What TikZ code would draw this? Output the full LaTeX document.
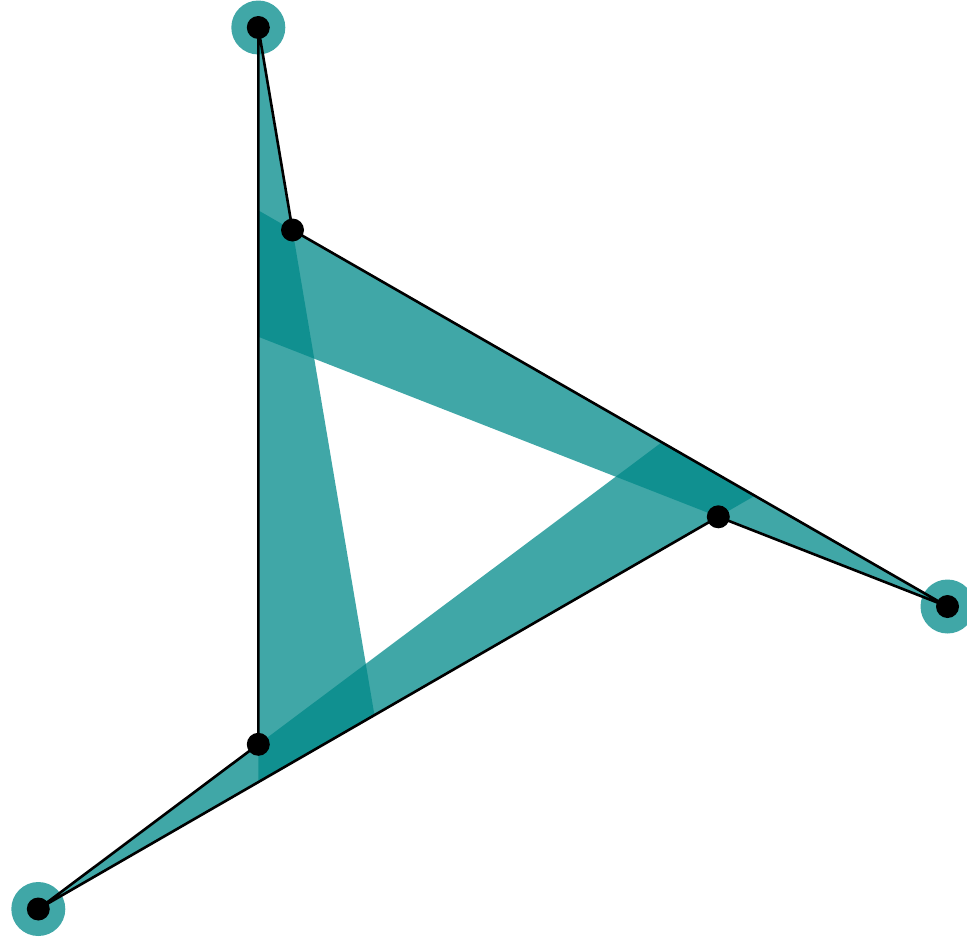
\documentclass[tikz,border=0pt]{standalone}
\definecolor{teal1}{RGB}{0,137,137}
\tikzset{
  band/.style={fill=teal1, fill opacity=0.75},
  halo/.style={circle, fill=teal1, fill opacity=0.75, minimum size=54pt, inner sep=0pt},
  dot/.style={circle, fill=black, minimum size=23pt, inner sep=0pt},
  edge/.style={draw=black, line width=2.6pt, line join=round}
}
\begin{document}
\begin{tikzpicture}[x=1pt,y=-1pt]
\useasboundingbox (0,0) rectangle (967,937);
\coordinate (A) at (258.3,27.5);
\coordinate (B) at (292.5,230);
\coordinate (C) at (718.3,516.8);
\coordinate (D) at (947.5,606.5);
\coordinate (E) at (258.3,744.3);
\coordinate (F) at (38.3,909);
% translucent bands
\fill[band] (A) -- (intersection of A--E and C--F) -- (intersection of A--B and C--F) -- cycle;
\fill[band] (D) -- (intersection of B--D and A--E) -- (intersection of C--D and A--E) -- cycle;
\fill[band] (F) -- (intersection of F--E and B--D) -- (intersection of F--C and B--D) -- cycle;
% halos
\node[halo] (ha) at (A) {};
\node[halo] (hd) at (D) {};
\node[halo] (hf) at (F) {};
% outline
\draw[edge] (A) -- (B) -- (D) -- (C) -- (F) -- (E) -- cycle;
% dots
\node[dot] (a) at (A) {};
\node[dot] (b) at (B) {};
\node[dot] (c) at (C) {};
\node[dot] (d) at (D) {};
\node[dot] (e) at (E) {};
\node[dot] (f) at (F) {};
\end{tikzpicture}
\end{document}
